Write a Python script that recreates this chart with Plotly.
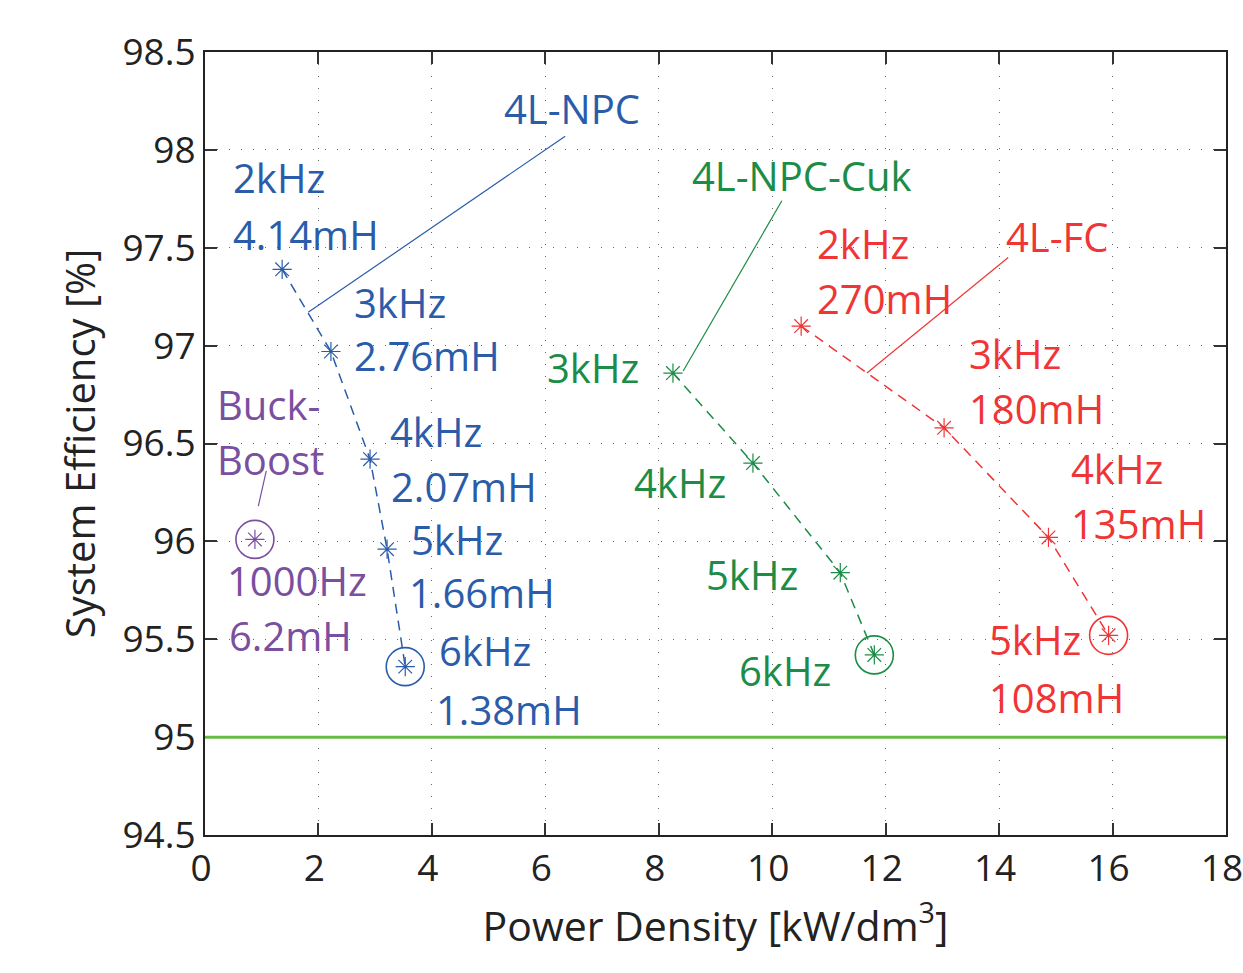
import plotly.graph_objects as go

# ---- data ----
npc_x = [1.36, 2.22, 2.91, 3.21, 3.53]
npc_y = [97.39, 96.97, 96.42, 95.96, 95.36]

bb_x = [0.88]
bb_y = [96.01]

cuk_x = [8.25, 9.66, 11.20, 11.80]
cuk_y = [96.86, 96.40, 95.84, 95.42]

fc_x = [10.51, 13.03, 14.87, 15.93]
fc_y = [97.10, 96.58, 96.02, 95.52]

limit_eff = 95.0
x_ticks = [0, 2, 4, 6, 8, 10, 12, 14, 16, 18]
y_ticks = [94.5, 95, 95.5, 96, 96.5, 97, 97.5, 98, 98.5]

# ---- styles ----
BLUE = "#2a5caa"
PURPLE = "#7a4fa0"
GREEN = "#1c8c47"
RED = "#ef3535"
LIMIT = "#66bb44"
FONT = "Open Sans"
FS = 40

fig = go.Figure()

fig.add_hline(y=limit_eff, line=dict(color=LIMIT, width=3), layer="above")


def series(x, y, color):
    fig.add_trace(go.Scatter(x=x, y=y, mode="lines+markers",
                             line=dict(color=color, width=1.5, dash="10px,7px"),
                             marker=dict(symbol="asterisk-open", size=16, color=color,
                                         line=dict(color=color, width=1.2)),
                             showlegend=False, hoverinfo="skip"))
    # highlighted (last) operating point
    fig.add_trace(go.Scatter(x=[x[-1]], y=[y[-1]], mode="markers",
                             marker=dict(symbol="circle-open", size=38, color=color,
                                         line=dict(color=color, width=1.6)),
                             showlegend=False, hoverinfo="skip"))


series(npc_x, npc_y, BLUE)
series(bb_x, bb_y, PURPLE)
series(cuk_x, cuk_y, GREEN)
series(fc_x, fc_y, RED)

# ---- labels (left x, y) in data coordinates ----
texts = [
    # 4L-NPC
    ("2kHz", 0.46, 97.86, BLUE), ("4.14mH", 0.46, 97.57, BLUE),
    ("3kHz", 2.59, 97.22, BLUE), ("2.76mH", 2.59, 96.95, BLUE),
    ("4kHz", 3.23, 96.56, BLUE), ("2.07mH", 3.25, 96.28, BLUE),
    ("5kHz", 3.60, 96.01, BLUE), ("1.66mH", 3.56, 95.74, BLUE),
    ("6kHz", 4.09, 95.44, BLUE), ("1.38mH", 4.04, 95.14, BLUE),
    ("4L-NPC", 5.24, 98.21, BLUE),
    # Buck-Boost
    ("Buck-", 0.18, 96.70, PURPLE), ("Boost", 0.18, 96.42, PURPLE),
    ("1000Hz", 0.36, 95.80, PURPLE), ("6.2mH", 0.39, 95.52, PURPLE),
    # 4L-NPC-Cuk
    ("4L-NPC-Cuk", 8.55, 97.87, GREEN),
    ("3kHz", 6.00, 96.89, GREEN), ("4kHz", 7.53, 96.30, GREEN),
    ("5kHz", 8.80, 95.83, GREEN), ("6kHz", 9.38, 95.34, GREEN),
    # 4L-FC
    ("2kHz", 10.76, 97.52, RED), ("270mH", 10.76, 97.24, RED),
    ("4L-FC", 14.09, 97.56, RED),
    ("3kHz", 13.44, 96.96, RED), ("180mH", 13.44, 96.68, RED),
    ("4kHz", 15.24, 96.37, RED), ("135mH", 15.24, 96.09, RED),
    ("5kHz", 13.79, 95.50, RED), ("108mH", 13.79, 95.20, RED),
]
for t, x, y, c in texts:
    fig.add_annotation(x=x, y=y, text=t, showarrow=False, xanchor="left",
                       yanchor="middle", font=dict(family=FONT, size=FS, color=c))

# ---- leader lines ----
leaders = [
    ((6.35, 98.07), (1.82, 97.17), BLUE),
    ((10.17, 97.74), (8.43, 96.87), GREEN),
    ((14.16, 97.45), (11.67, 96.86), RED),
    ((1.08, 96.36), (0.94, 96.18), PURPLE),
]
for (x0, y0), (x1, y1), c in leaders:
    fig.add_shape(type="line", x0=x0, y0=y0, x1=x1, y1=y1,
                  line=dict(color=c, width=1.2))

axis_common = dict(showline=True, linecolor="#222", linewidth=2, mirror="ticks",
                   ticks="inside", ticklen=12, tickwidth=1.5, tickcolor="#333",
                   showgrid=True, gridcolor="#666", griddash="1px,11px", gridwidth=1.2,
                   zeroline=False, ticklabeloverflow="allow",
                   tickfont=dict(family=FONT, size=37, color="#222"))

fig.update_xaxes(range=[0, 18], tickvals=x_ticks, ticktext=[str(v) for v in x_ticks],
                 ticklabelshift=-4,
                 title=dict(text="Power Density [kW/dm<sup>3</sup>]",
                            font=dict(family=FONT, size=FS + 1, color="#222"), standoff=14),
                 **axis_common)
fig.update_yaxes(range=[94.5, 98.5], tickvals=y_ticks, ticktext=[f"{v:g}" for v in y_ticks],
                 title=dict(text="System Efficiency [%]",
                            font=dict(family=FONT, size=FS, color="#222"), standoff=14),
                 **axis_common)

fig.update_layout(width=1243, height=973,
                  margin=dict(l=205, r=17, t=52, b=138, autoexpand=False),
                  plot_bgcolor="white", paper_bgcolor="white",
                  showlegend=False)

fig.write_html("out.html", config={"displayModeBar": False},
               post_script="document.body.style.margin='0';document.body.style.overflow='hidden';")
